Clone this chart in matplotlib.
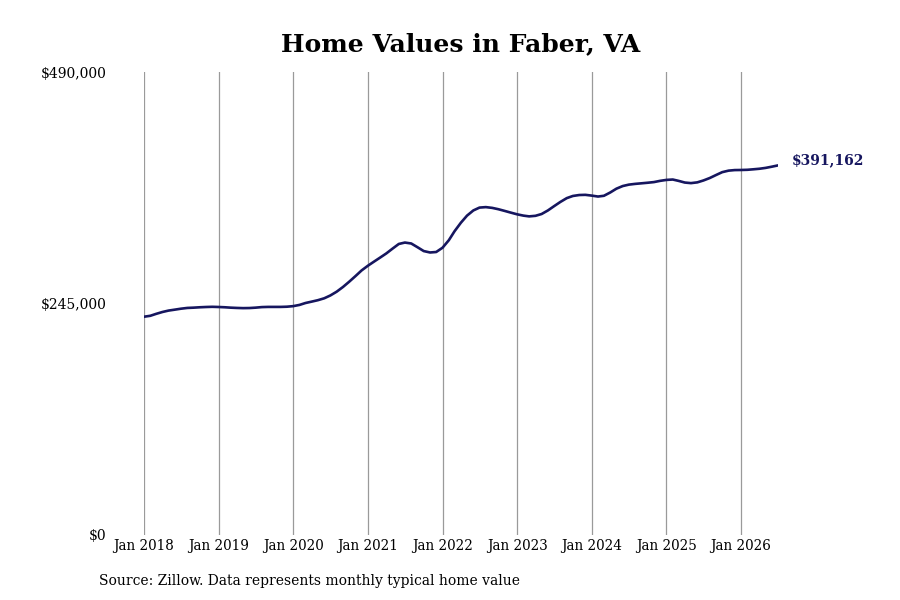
import matplotlib
matplotlib.use("Agg")
import matplotlib.pyplot as plt
import matplotlib.dates as mdates
from matplotlib.ticker import FuncFormatter
import datetime as dt

title = "Home Values in Faber, VA"
source = "Source: Zillow. Data represents monthly typical home value"
start_year, start_month = 2018, 1

# monthly typical home value, thousands of dollars (Jan 2018 - Jul 2026)
values_k = [
    231.0, 232.0, 234.0, 236.0, 237.5, 238.5, 239.5, 240.3, 240.6, 241.0, 241.3, 241.5,
    241.3, 241.0, 240.6, 240.3, 240.1, 240.2, 240.6, 241.2, 241.4, 241.4, 241.4, 241.6,
    242.2, 243.5, 245.5, 247.0, 248.5, 250.5, 253.5, 257.5, 262.5, 268.0, 274.0, 280.0,
    285.0, 289.5, 293.5, 298.0, 303.0, 308.0, 309.5, 308.5, 304.5, 300.5, 299.0, 299.5,
    304.0, 312.0, 321.5, 330.5, 338.0, 343.5, 346.5, 347.0, 346.2, 344.8, 343.0, 341.2,
    339.4, 338.0, 337.2, 337.8, 339.7, 343.5, 348.0, 352.5, 356.5, 358.8, 359.8, 360.0,
    359.2, 358.2, 359.0, 362.5, 366.5, 369.3, 370.8, 371.6, 372.2, 372.8, 373.5, 374.8,
    375.8, 376.2, 374.8, 373.0, 372.4, 373.2, 375.2, 377.8, 381.0, 384.0, 385.6, 386.2,
    386.3, 386.5, 387.0, 387.6, 388.5, 389.8, 391.162,
]
yticks = [0, 245000, 490000]
xtick_years = list(range(2018, 2027))

dates = []
for i in range(len(values_k)):
    m = start_month - 1 + i
    dates.append(dt.date(start_year + m // 12, m % 12 + 1, 1))
values = [v * 1000 for v in values_k]

fig = plt.figure(figsize=(9, 6), dpi=100)
ax = fig.add_axes([144/900, 1 - 535/600, (778 - 144)/900, (535 - 72)/600])

line_color = "#16165f"
ax.plot(dates, values, color=line_color, lw=1.9, solid_capstyle="round")

ax.set_ylim(0, 490000)
ax.set_xlim(dates[0], dates[-1])
ax.set_yticks(yticks)
ax.yaxis.set_major_formatter(FuncFormatter(lambda v, p: f"${v:,.0f}"))
ax.set_xticks([dt.date(y, 1, 1) for y in xtick_years])
ax.xaxis.set_major_formatter(mdates.DateFormatter("Jan %Y"))

for s in ax.spines.values():
    s.set_visible(False)
ax.grid(axis="x", color="#9a9a9a", lw=0.9)
ax.grid(axis="y", visible=False)
ax.tick_params(axis="both", length=0)
ax.tick_params(axis="y", pad=27, labelsize=10)
ax.tick_params(axis="x", pad=3, labelsize=10.8)
for lab in ax.get_yticklabels():
    lab.set_fontfamily("DejaVu Serif")
for lab in ax.get_xticklabels():
    lab.set_fontfamily("DejaVu Serif")
    lab.set_fontstretch("condensed")

ax.annotate(f"${values[-1]:,.0f}", xy=(dates[-1], values[-1]), xytext=(10, 4),
            textcoords="offset points", ha="left", va="center",
            fontsize=10, fontweight="bold", color=line_color, family="DejaVu Serif")

fig.text(461/900, 1 - 44/600, title, ha="center", va="center",
         fontsize=18, fontweight="bold", family="DejaVu Serif")
fig.text(99/900, 1 - 581/600, source, ha="left", va="center",
         fontsize=11.1, family="DejaVu Serif", fontstretch="condensed")

fig.savefig("out.png", dpi=100)
